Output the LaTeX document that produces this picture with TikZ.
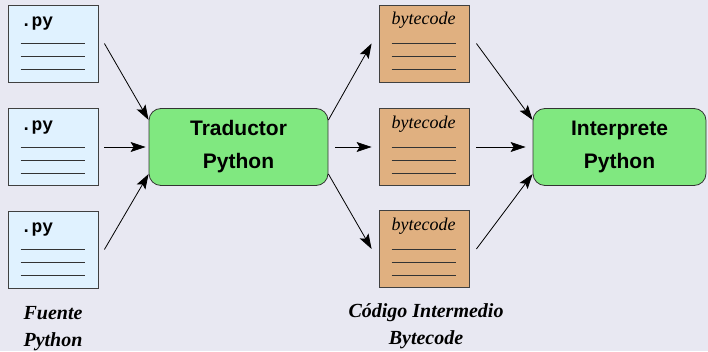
\documentclass[tikz,border=0pt]{standalone}
\usepackage{fontspec}
\setmainfont{Liberation Serif}
\setsansfont{Liberation Sans}
\setmonofont{Liberation Mono}
\usetikzlibrary{arrows.meta}

\definecolor{fondo}{RGB}{232,232,242}
\definecolor{azulfuente}{RGB}{224,242,255}
\definecolor{ocrebyte}{RGB}{224,176,128}
\definecolor{verdeproc}{RGB}{128,232,128}

\tikzset{
  fichero/.style={draw=black!75, line width=0.8pt, minimum width=90pt, minimum height=77pt, inner sep=0pt},
  proceso/.style={draw=black!80, line width=0.8pt, fill=verdeproc, rounded corners=12pt,
    minimum width=179pt, minimum height=77pt, align=center,
    font=\sffamily\bfseries\fontsize{21}{33}\selectfont},
  flecha/.style={-{Stealth[length=15pt,width=10pt,inset=3pt]}, line width=0.8pt},
  renglon/.style={draw=black!80, line width=0.8pt},
  etiqueta/.style={align=center, inner sep=0pt, font=\bfseries\itshape\fontsize{20}{27}\selectfont}
}

\begin{document}
\begin{tikzpicture}[x=1pt,y=-1pt]

  \fill[fondo] (0,0) rectangle (708,351);

  % ficheros fuente
  \begin{scope}[every node/.style={fichero,fill=azulfuente}]
    \node (f1) at (53,43.5)  {};
    \node (f2) at (53,147)   {};
    \node (f3) at (53,249.5) {};
  \end{scope}

  % ficheros de bytecode
  \begin{scope}[every node/.style={fichero,fill=ocrebyte}]
    \node (b1) at (424,43.5) {};
    \node (b2) at (424,147)  {};
    \node (b3) at (424,249)  {};
  \end{scope}

  \node[proceso] (trad) at (238.5,147) {Traductor\\Python};
  \node[proceso, minimum width=173pt] (interp) at (619.5,147) {Interprete\\Python};

  % rotulos y renglones de cada fichero
  \foreach \f in {f1,f2,f3} {
    \node[anchor=base west, inner sep=0pt, font=\ttfamily\bfseries\fontsize{18}{18}\selectfont]
      at ([shift={(13,22)}]\f.north west) {.py};
    \foreach \d in {39,52,65}
      \draw[renglon] ([shift={(13,\d)}]\f.north west) -- ([shift={(77,\d)}]\f.north west);
  }
  \foreach \b in {b1,b2,b3} {
    \node[anchor=base, inner sep=0pt, font=\itshape\fontsize{18}{18}\selectfont]
      at ([shift={(45,20)}]\b.north west) {bytecode};
    \foreach \d in {39,52,65}
      \draw[renglon] ([shift={(13,\d)}]\b.north west) -- ([shift={(77,\d)}]\b.north west);
  }

  \begin{scope}[every path/.style={flecha}]
    \draw ([xshift=6pt]f1.east) -- ([yshift=27pt]trad.west);
    \draw ([xshift=6pt]f2.east) -- ([xshift=-3pt]trad.west);
    \draw ([xshift=6pt]f3.east) -- ([yshift=-27pt]trad.west);
    \draw ([yshift=27pt]trad.east)  -- ([xshift=-7pt]b1.west);
    \draw ([xshift=7pt]trad.east)   -- ([xshift=-7pt]b2.west);
    \draw ([yshift=-27pt]trad.east) -- ([xshift=-7pt]b3.west);
    \draw ([xshift=7pt]b1.east) -- ([yshift=27pt]interp.west);
    \draw ([xshift=7pt]b2.east) -- ([xshift=-7pt]interp.west);
    \draw ([xshift=7pt]b3.east) -- ([yshift=-27pt]interp.west);
  \end{scope}

  \node[etiqueta] (lfuente) at (53,329) {Fuente\\Python};
  \node[etiqueta] (lbytecode) at (426,326) {Código Intermedio\\Bytecode};

\end{tikzpicture}
\end{document}
